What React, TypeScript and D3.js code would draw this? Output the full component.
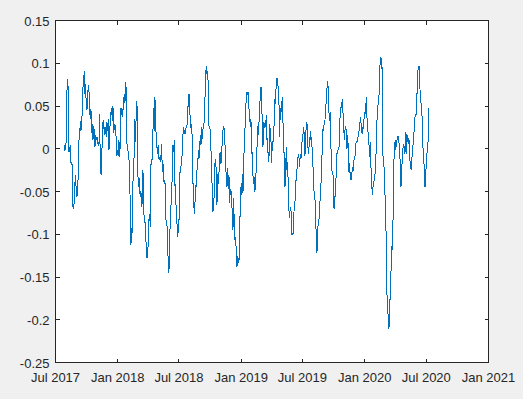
import React, { useRef, useEffect } from 'react';
import * as d3 from 'd3';

// first and last observation; the series is sampled at an even step between them
const startDate = '2017-07-27';
const endDate = '2020-07-09';

const series = [
  0.004, -0.002, 0.006, 0.008, 0.068, 0.081, 0.068, -0.004, 0.000, 0.004,
  -0.016, -0.018, -0.019, -0.068, -0.070, -0.060, -0.039, -0.031, -0.052, -0.056,
  -0.052, -0.025, 0.010, 0.012, 0.033, 0.021, 0.031, 0.043, 0.072, 0.079,
  0.091, 0.064, 0.076, 0.048, 0.045, 0.062, 0.074, 0.068, 0.047, 0.035,
  0.047, 0.019, 0.029, 0.010, 0.027, 0.021, 0.002, 0.016, 0.010, 0.014,
  0.006, 0.005, 0.004, 0.041, -0.019, -0.029, -0.031, 0.023, 0.031, 0.033,
  0.016, 0.025, 0.023, 0.014, 0.031, 0.021, 0.035, -0.002, 0.017, 0.033,
  0.043, 0.048, 0.033, 0.050, 0.019, 0.025, 0.029, 0.019, 0.012, -0.008,
  -0.002, -0.008, 0.010, -0.010, 0.006, 0.048, 0.043, 0.037, 0.045, 0.056,
  0.064, 0.054, 0.078, 0.068, 0.006, 0.002, -0.006, -0.010, -0.050, -0.056,
  -0.112, -0.093, -0.099, -0.039, -0.027, 0.000, 0.035, 0.008, 0.050, 0.056,
  -0.017, -0.045, -0.033, -0.047, -0.056, -0.050, -0.068, -0.062, -0.025, -0.064,
  -0.087, -0.085, -0.101, -0.114, -0.128, -0.124, -0.109, -0.083, -0.076, -0.091,
  -0.019, -0.012, -0.012, 0.021, 0.048, 0.021, 0.060, 0.021, 0.019, 0.002,
  -0.006, 0.004, -0.012, -0.010, -0.016, -0.008, 0.006, -0.027, -0.016, -0.037,
  -0.041, -0.037, -0.078, -0.087, -0.089, -0.107, -0.138, -0.145, -0.095,
  // 2018 H2
  -0.093, -0.068, -0.047, -0.033, 0.004, -0.004, 0.010, -0.043, -0.041, -0.083,
  -0.087, -0.103, -0.095, -0.087, -0.029, -0.027, -0.021, -0.010, -0.008, 0.017,
  0.025, 0.019, 0.017, 0.021, 0.027, 0.027, 0.043, 0.054, 0.064, 0.060,
  0.025, 0.027, 0.029, 0.008, -0.039, -0.060, -0.076, -0.064, -0.043, -0.045,
  -0.025, -0.023, -0.002, -0.012, 0.000, 0.016, 0.004, 0.025, 0.012, 0.023,
  0.027, 0.033, 0.058, 0.085, 0.097, 0.087, 0.091, 0.072, 0.027, 0.025,
  0.021, -0.002, -0.017, -0.056, -0.074, -0.060, -0.056, -0.017, -0.012, -0.029,
  -0.066, -0.029, -0.041, -0.029, -0.006, -0.004, -0.017, -0.016, 0.017, 0.021,
  0.027, 0.023, 0.006, -0.014, -0.037, -0.045, -0.023, -0.047, -0.031, -0.064,
  -0.047, -0.052, -0.050, -0.083, -0.095, -0.058, -0.089, -0.107, -0.103, -0.122,
  -0.138, -0.126, -0.130, -0.134, -0.081, -0.078, -0.045, -0.054, -0.029, -0.052,
  -0.021, 0.006, 0.023, 0.039, 0.064, 0.066, 0.064, 0.066, 0.047, 0.039,
  0.025, 0.035, -0.006, -0.004, -0.031, -0.041, -0.033, -0.050, -0.033, -0.025,
  0.000, 0.027, 0.016, 0.031, 0.033, 0.072, 0.070, 0.072, 0.017, 0.002,
  0.031, 0.029, 0.025, 0.027, 0.039, 0.010, 0.012, -0.016, -0.012, 0.029,
  0.021, 0.010, -0.017, 0.008, 0.008, 0.010, 0.039, 0.058, 0.052, 0.083,
  0.079, 0.083, 0.066, 0.054, 0.014,
  // 2019
  0.048, 0.043, 0.050, 0.060, 0.033, -0.004, -0.004, -0.045, -0.027, 0.002,
  -0.025, -0.016, -0.045, -0.072, -0.081, -0.068, -0.070, -0.101, -0.099, -0.101,
  -0.081, -0.068, -0.064, -0.037, -0.037, -0.025, -0.016, -0.006, -0.010, -0.021,
  -0.006, -0.012, 0.006, 0.010, 0.016, 0.025, 0.016, -0.008, 0.010, 0.031,
  0.031, 0.010, -0.006, 0.002, 0.004, 0.021, 0.010, 0.014, -0.006, -0.019,
  -0.047, -0.052, -0.058, -0.089, -0.097, -0.122, -0.097, -0.085, -0.083, -0.068,
  -0.056, -0.041, -0.025, 0.006, 0.023, 0.021, 0.033, 0.033, 0.048, 0.056,
  0.070, 0.079, 0.070, 0.043, 0.033, 0.043, 0.002, -0.025, -0.027, -0.027,
  -0.068, -0.070, -0.056, -0.054, -0.021, -0.006, -0.006, 0.002, 0.000, 0.023,
  0.045, 0.048, 0.050, 0.058, 0.043, 0.031, 0.010, 0.021, 0.027, 0.021,
  0.000, 0.016, 0.000, -0.027, -0.017, -0.037, -0.027, -0.037, -0.021, -0.027,
  -0.017, -0.010, -0.010, 0.004, 0.008, 0.008, 0.008, 0.017, 0.021, 0.023,
  0.037, 0.031, 0.021, 0.017, 0.025, 0.023, 0.043, 0.041, 0.043, 0.060,
  0.037, 0.023, 0.017, 0.006, -0.010, 0.008, -0.021, -0.037, -0.054, -0.045,
  -0.043, -0.033, -0.031, -0.019, 0.002, 0.033, 0.048, 0.054, 0.060, 0.095,
  0.101, 0.107, 0.093, 0.095, -0.008, -0.010, -0.029, -0.052, -0.076, -0.112,
  -0.171, -0.172, -0.209, -0.211, -0.176,
  // 2020
  -0.176, -0.145, -0.114, -0.118, -0.087, -0.041, 0.008, -0.002, 0.010, 0.002,
  0.010, 0.014, 0.014, 0.008, -0.006, -0.016, -0.045, -0.021, -0.016, 0.000,
  0.006, 0.002, -0.006, 0.019, -0.006, 0.017, 0.010, 0.006, 0.012, -0.006,
  -0.021, -0.023, -0.025, 0.002, 0.004, 0.014, 0.023, 0.037, 0.039, 0.041,
  0.062, 0.091, 0.093, 0.097, 0.085, 0.058, 0.054, 0.045, 0.033, 0.002,
  -0.012, -0.023, -0.045, -0.037, -0.014, -0.006, 0.006, 0.010, 0.048,
];

const xTickDates = ['2017-07-01', '2018-01-01', '2018-07-01', '2019-01-01', '2019-07-01', '2020-01-01', '2020-07-01', '2021-01-01'];
const xTickLabels = ['Jul 2017', 'Jan 2018', 'Jul 2018', 'Jan 2019', 'Jul 2019', 'Jan 2020', 'Jul 2020', 'Jan 2021'];
const yTicks = [-0.25, -0.2, -0.15, -0.1, -0.05, 0, 0.05, 0.1, 0.15];
const yTickLabels = ['-0.25', '-0.2', '-0.15', '-0.1', '-0.05', '0', '0.05', '0.1', '0.15'];

const width = 523;
const height = 399;
const left = 55.5, right = 488.5, top = 20.5, bottom = 362.5;

const LineChart = () => {
  const ref = useRef<SVGSVGElement>(null);

  useEffect(() => {
    const svg = d3.select(ref.current)
      .attr('width', width)
      .attr('height', height);

    svg.selectAll('*').remove();

    const parse = d3.timeParse('%Y-%m-%d');
    const t0 = parse(startDate)!.getTime();
    const t1 = parse(endDate)!.getTime();
    const dates = series.map((_, i) => new Date(t0 + (t1 - t0) * i / (series.length - 1)));
    const tickDates = xTickDates.map((d) => parse(d)!);

    const xScale = d3.scaleTime()
      .domain([tickDates[0], tickDates[tickDates.length - 1]])
      .range([left, right]);

    const yScale = d3.scaleLinear()
      .domain([yTicks[0], yTicks[yTicks.length - 1]])
      .range([bottom, top]);

    svg.append('rect')
      .attr('width', width)
      .attr('height', height)
      .attr('fill', '#f0f0f0');

    svg.append('rect')
      .attr('x', left)
      .attr('y', top)
      .attr('width', right - left)
      .attr('height', bottom - top)
      .attr('fill', '#ffffff');

    const line = d3.line<number>()
      .x((_, i) => xScale(dates[i]))
      .y((d) => yScale(d));

    // matlab screenshot lines are not antialiased
    svg.append('path')
      .datum(series)
      .attr('d', line)
      .attr('fill', 'none')
      .attr('stroke', '#0072bd')
      .attr('stroke-width', 1)
      .attr('shape-rendering', 'crispEdges');

    const styleAxis = (g: any) => {
      g.select('.domain').remove();
      g.attr('font-family', '"Liberation Sans", Arial, sans-serif').attr('font-size', 13);
      g.selectAll('line').attr('stroke', '#262626').attr('shape-rendering', 'crispEdges');
      g.selectAll('text').attr('fill', '#262626');
    };

    svg.append('g')
      .attr('transform', `translate(0, ${bottom})`)
      .call(d3.axisBottom(xScale).tickValues(tickDates)
        .tickFormat((_, i) => xTickLabels[i]).tickSizeInner(-4).tickSizeOuter(0).tickPadding(10).offset(0))
      .call(styleAxis);

    svg.append('g')
      .attr('transform', `translate(0, ${top})`)
      .call(d3.axisTop(xScale).tickValues(tickDates)
        .tickFormat(() => '').tickSizeInner(-4).tickSizeOuter(0).offset(0))
      .call(styleAxis);

    const leftAxis = svg.append('g')
      .attr('transform', `translate(${left}, 0)`)
      .call(d3.axisLeft(yScale).tickValues(yTicks)
        .tickFormat((_, i) => yTickLabels[i]).tickSizeInner(-4).tickSizeOuter(0).tickPadding(6).offset(0))
      .call(styleAxis);
    leftAxis.selectAll('text').attr('dy', '0.4em');

    svg.append('g')
      .attr('transform', `translate(${right}, 0)`)
      .call(d3.axisRight(yScale).tickValues(yTicks)
        .tickFormat(() => '').tickSizeInner(-4).tickSizeOuter(0).offset(0))
      .call(styleAxis);

    svg.append('rect')
      .attr('x', left)
      .attr('y', top)
      .attr('width', right - left)
      .attr('height', bottom - top)
      .attr('fill', 'none')
      .attr('stroke', '#262626')
      .attr('stroke-width', 1);
  }, []);

  return (
    <svg ref={ref} style={{ position: 'absolute', left: 0, top: 0, display: 'block' }}></svg>
  );
};

export default function App() {
  return <LineChart />;
}
